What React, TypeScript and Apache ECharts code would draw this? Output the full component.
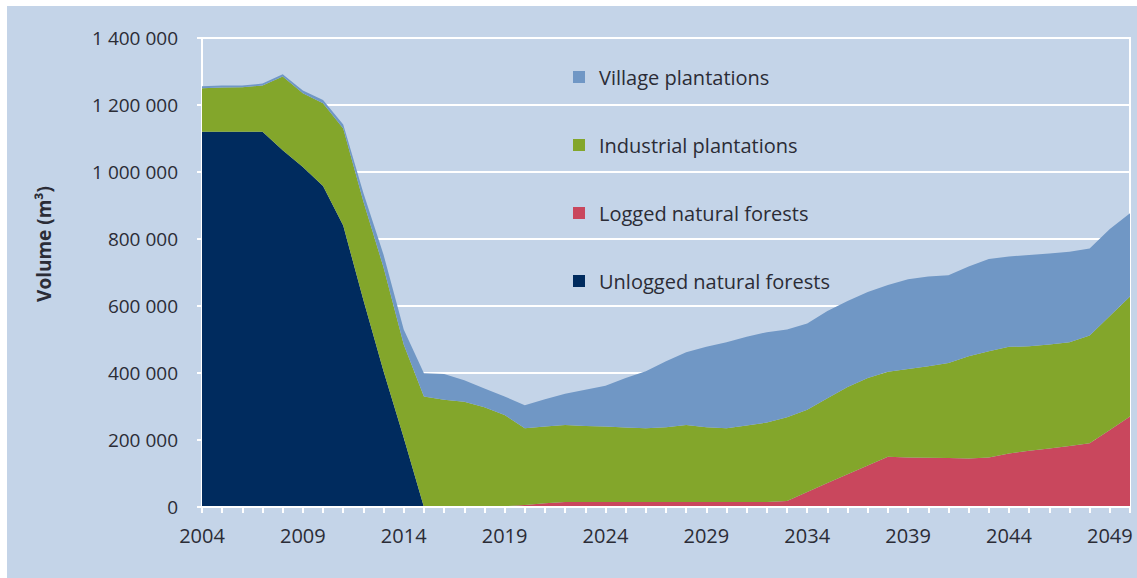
import React, { useEffect, useRef } from "react";
import * as echarts from "echarts";

const years: string[] = [];
for (let y = 2004; y <= 2050; y++) years.push(String(y));

// values in m³ (thousands × 1000)
const unlogged = [
  1120, 1120, 1120, 1120, 1065, 1015, 958, 840, 618, 405, 207, 0,
  0, 0, 0, 0, 0, 0, 0, 0, 0, 0, 0, 0, 0, 0, 0, 0, 0, 0,
  0, 0, 0, 0, 0, 0, 0, 0, 0, 0, 0, 0, 0, 0, 0, 0, 0,
].map((v) => v * 1000);

const logged = [
  0, 0, 0, 0, 0, 0, 0, 0, 0, 0, 0, 0, 0, 0, 0, 2, 6, 11, 15, 15,
  15, 15, 15, 15, 15, 15, 15, 15, 15, 18, 45, 72, 98, 124, 150, 148, 147,
  146, 145, 148, 160, 168, 175, 182, 190, 230, 270,
].map((v) => v * 1000);

const industrial = [
  130, 132, 133, 138, 220, 220, 247, 290, 294, 310, 278, 330, 320, 314, 298,
  273, 229, 229, 230, 227, 225, 222, 220, 223, 230, 223, 220, 228, 237, 250,
  245, 253, 260, 261, 254, 264, 273, 284, 305, 317, 318, 312, 310, 310, 322,
  340, 358,
].map((v) => v * 1000);

const village = [
  6, 6, 5, 6, 7, 8, 10, 12, 25, 38, 45, 69, 77, 64, 56, 55, 69, 82, 93, 108,
  122, 148, 170, 197, 217, 240, 257, 265, 270, 262, 258, 260, 257, 257, 259,
  268, 268, 262, 268, 275, 270, 272, 272, 270, 260, 260, 249,
].map((v) => v * 1000);

const yTicks = [0, 200000, 400000, 600000, 800000, 1000000, 1200000, 1400000];

const C_BG = "#c4d4e8";
const C_NAVY = "#002b5e";
const C_RED = "#c9475d";
const C_GREEN = "#83a62b";
const C_VILLAGE = "#7097c5";
const C_TEXT = "#2b2c36";
const FONT = "'Open Sans', 'Noto Sans', sans-serif";

function fmt(v: number): string {
  if (v === 0) return "0";
  const s = String(v);
  return s.replace(/\B(?=(\d{3})+(?!\d))/g, " ");
}

export default function App() {
  const ref = useRef<HTMLDivElement>(null);
  useEffect(() => {
    if (!ref.current) return;
    const chart = echarts.init(ref.current, undefined, { renderer: "svg" });
    const area = (name: string, data: number[], color: string) => ({
      name,
      type: "line",
      stack: "total",
      data,
      symbol: "none",
      showSymbol: false,
      smooth: false,
      lineStyle: { width: 0 },
      itemStyle: { color },
      areaStyle: { color, opacity: 1 },
      emphasis: { disabled: true },
    });
    chart.setOption({
      animation: false,
      backgroundColor: "#ffffff",
      textStyle: { fontFamily: FONT },
      graphic: [
        {
          type: "rect",
          z: -10,
          silent: true,
          shape: { x: 7, y: 6, width: 1130, height: 572 },
          style: { fill: C_BG },
        },
        {
          type: "text",
          x: 44,
          y: 244,
          rotation: Math.PI / 2,
          silent: true,
          style: {
            text: "Volume (m³)",
            align: "center",
            verticalAlign: "middle",
            fontFamily: FONT,
            fontSize: 19,
            fontWeight: "bold",
            fill: C_TEXT,
          },
        },
      ],
      grid: {
        left: 202,
        right: 7,
        top: 38,
        bottom: 71,
        show: true,
        backgroundColor: "transparent",
        borderColor: "#ffffff",
        borderWidth: 2,
        z: 3,
      },
      legend: {
        orient: "vertical",
        left: 568,
        top: 61,
        itemWidth: 12,
        itemHeight: 12,
        itemGap: 46,
        icon: "rect",
        selectedMode: false,
        data: [
          "Village plantations",
          "Industrial plantations",
          "Logged natural forests",
          "Unlogged natural forests",
        ],
        textStyle: {
          fontFamily: FONT,
          fontSize: 20,
          color: C_TEXT,
          lineHeight: 22,
          padding: [0, 0, 0, 9],
        },
      },
      xAxis: {
        type: "category",
        boundaryGap: false,
        data: years,
        axisLine: { lineStyle: { color: "#ffffff", width: 2 } },
        axisTick: {
          show: true,
          interval: 0,
          length: 6,
          lineStyle: { color: "#ffffff", width: 2 },
        },
        axisLabel: {
          interval: 4,
          fontFamily: FONT,
          fontSize: 20,
          color: C_TEXT,
          margin: 18,
        },
        splitLine: { show: false },
        z: 5,
      },
      yAxis: {
        type: "value",
        min: 0,
        max: 1400000,
        interval: 200000,
        axisLine: { show: true, lineStyle: { color: "#ffffff", width: 2 } },
        axisTick: {
          show: true,
          length: 5,
          lineStyle: { color: "#ffffff", width: 2 },
        },
        axisLabel: {
          fontFamily: FONT,
          fontSize: 19,
          color: C_TEXT,
          margin: 24,
          formatter: (v: number) => (yTicks.includes(v) ? fmt(v) : ""),
        },
        splitLine: { show: true, lineStyle: { color: "#ffffff", width: 2 } },
      },
      series: [
        area("Unlogged natural forests", unlogged, C_NAVY),
        area("Logged natural forests", logged, C_RED),
        area("Industrial plantations", industrial, C_GREEN),
        area("Village plantations", village, C_VILLAGE),
      ],
    });
    return () => chart.dispose();
  }, []);
  return (
    <div
      ref={ref}
      style={{ position: "absolute", left: 0, top: 0, width: 1137, height: 578 }}
    />
  );
}
